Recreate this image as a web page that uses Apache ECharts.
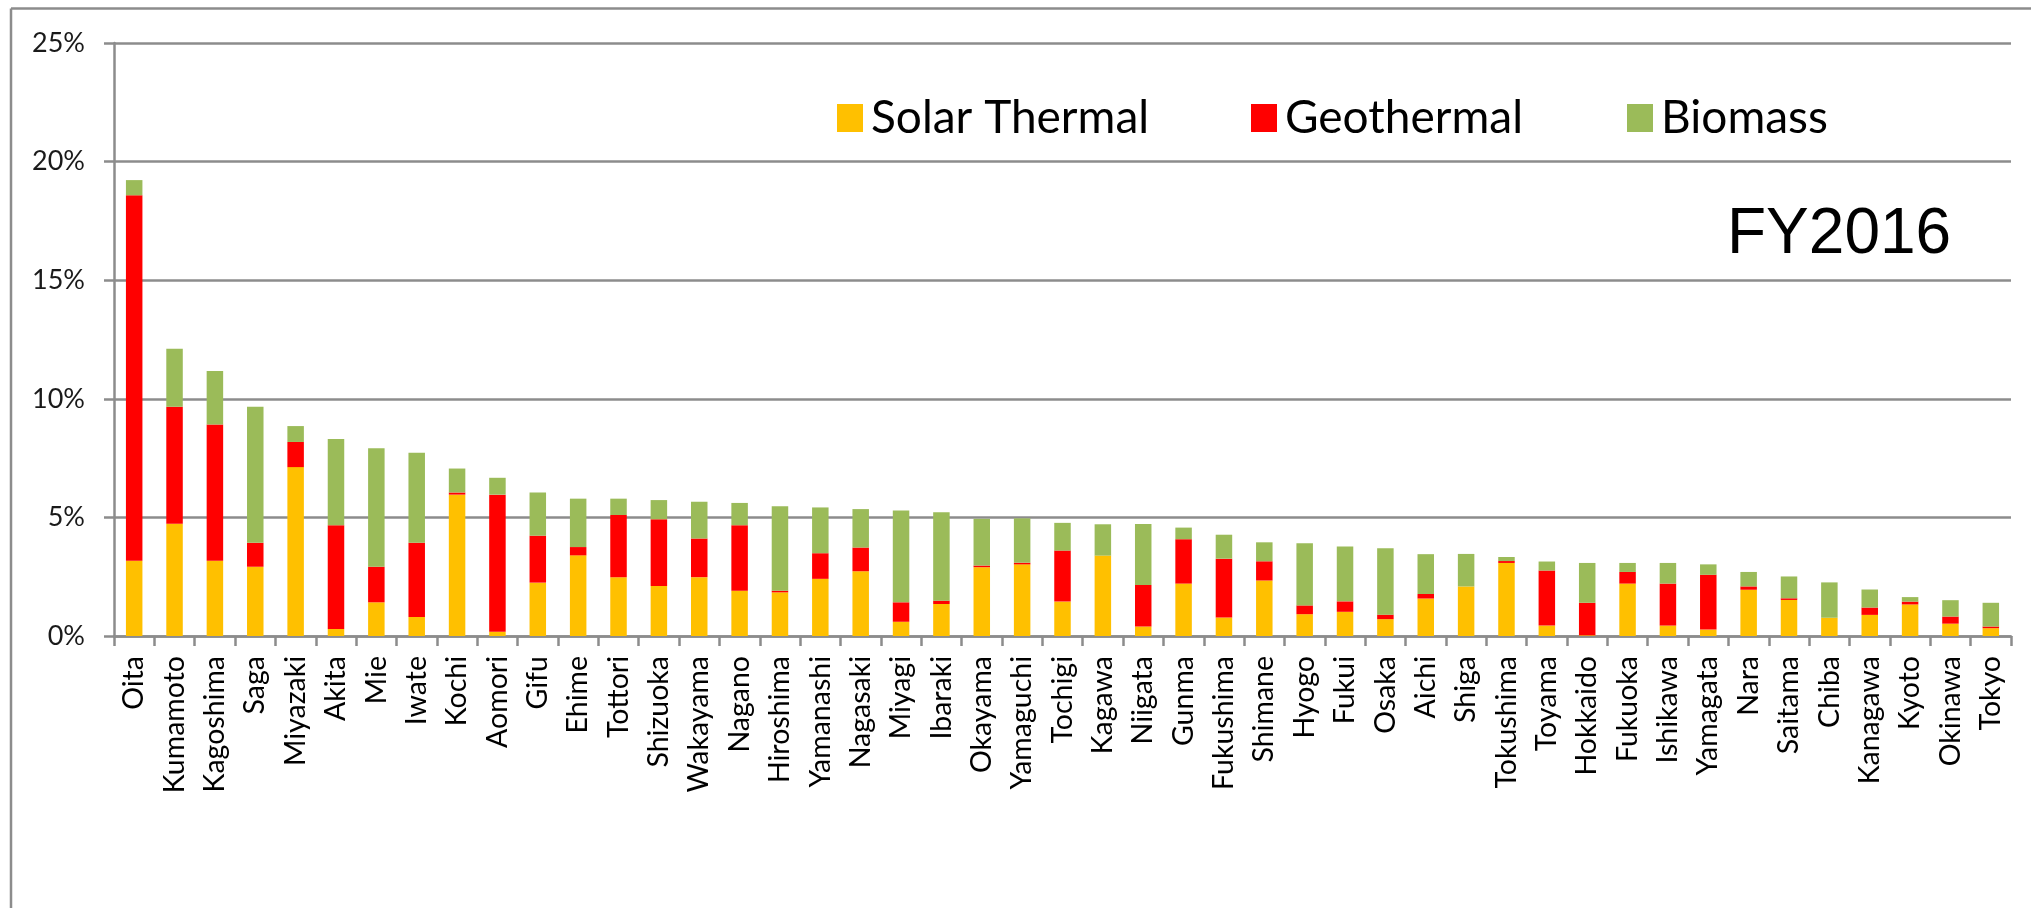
<!DOCTYPE html>
<html>
<head>
<meta charset="utf-8">
<script src="https://cdn.jsdelivr.net/npm/echarts@6/dist/echarts.min.js"></script>
<style>
html,body{margin:0;padding:0;background:#fff;}
#chart{width:2031px;height:908px;}
</style>
</head>
<body>
<div id="chart"></div>
<script>
const prefectures = ["Oita","Kumamoto","Kagoshima","Saga","Miyazaki","Akita","Mie","Iwate","Kochi","Aomori","Gifu","Ehime","Tottori","Shizuoka","Wakayama","Nagano","Hiroshima","Yamanashi","Nagasaki","Miyagi","Ibaraki","Okayama","Yamaguchi","Tochigi","Kagawa","Niigata","Gunma","Fukushima","Shimane","Hyogo","Fukui","Osaka","Aichi","Shiga","Tokushima","Toyama","Hokkaido","Fukuoka","Ishikawa","Yamagata","Nara","Saitama","Chiba","Kanagawa","Kyoto","Okinawa","Tokyo"];

const solarThermal = [3.17,4.73,3.17,2.92,7.12,0.30,1.42,0.80,5.96,0.18,2.25,3.40,2.48,2.11,2.48,1.91,1.84,2.41,2.73,0.60,1.35,2.90,3.02,1.45,3.39,0.40,2.21,0.78,2.34,0.92,1.02,0.71,1.58,2.09,3.08,0.44,0.03,2.21,0.44,0.27,1.95,1.52,0.77,0.89,1.33,0.52,0.33];

const geothermal = [15.41,4.93,5.75,1.01,1.06,4.37,1.50,3.13,0.09,5.78,1.98,0.35,2.62,2.81,1.63,2.76,0.07,1.08,1.00,0.82,0.14,0.07,0.07,2.15,0,1.75,1.87,2.48,0.81,0.37,0.44,0.19,0.19,0,0.08,2.32,1.37,0.49,1.77,2.31,0.14,0.07,0,0.31,0.12,0.30,0.07];

const biomass = [0.64,2.45,2.25,5.73,0.67,3.63,4.99,3.80,1.01,0.71,1.82,2.04,0.69,0.81,1.55,0.94,3.56,1.93,1.62,3.87,3.73,1.97,1.87,1.17,1.32,2.57,0.49,1.01,0.80,2.62,2.31,2.80,1.68,1.37,0.17,0.38,1.68,0.38,0.87,0.44,0.61,0.92,1.49,0.76,0.19,0.69,1.00];

const seriesNames = ["Solar Thermal","Geothermal","Biomass"];
const seriesColors = ["#FFC000","#FF0000","#9BBB59"];
const yTicks = [0,5,10,15,20,25];
const periodLabel = "FY2016";

const chart = echarts.init(document.getElementById('chart'), null, {renderer:'canvas'});
const gridColor = '#8c8c8c';
const legendLefts = [832, 1246, 1622];

const option = {
  animation: false,
  backgroundColor: '#ffffff',
  grid: {left:114, right:20, top:43, bottom:272, outerBoundsMode:'none', containLabel:false},
  legend: seriesNames.map((n,i)=>({
    data:[n], left: legendLefts[i], top: 90, orient:'horizontal',
    itemWidth:26, itemHeight:28, icon:'rect',
    textStyle:{fontFamily:'Lato', fontSize:46, color:'#000', lineHeight:46, padding:[0,0,0,3]},
    selectedMode:false
  })),
  xAxis: {
    type:'category',
    data: prefectures,
    axisLine:{show:true, lineStyle:{color:gridColor, width:2.5}},
    axisTick:{show:true, length:10, lineStyle:{color:gridColor, width:2.5}},
    axisLabel:{interval:0, rotate:90, margin:20, fontFamily:'Lato', fontSize:28.5, color:'#000'}
  },
  yAxis: {
    type:'value',
    min: yTicks[0], max: yTicks[yTicks.length-1], interval: yTicks[1]-yTicks[0],
    axisLine:{show:true, lineStyle:{color:gridColor, width:2.5}},
    axisTick:{show:true, length:10, lineStyle:{color:gridColor, width:2.5}},
    splitLine:{show:true, lineStyle:{color:gridColor, width:2.5}},
    axisLabel:{formatter:'{value}%', margin:29, fontFamily:'Lato', fontSize:27, color:'#1a1a1a'}
  },
  series: [solarThermal, geothermal, biomass].map((d,i)=>({
    name: seriesNames[i], type:'bar', stack:'total', data:d,
    barWidth:16.5, itemStyle:{color:seriesColors[i]}
  })),
  graphic: [
    {type:'line', shape:{x1:11, y1:8.5, x2:2031, y2:8.5}, style:{stroke:gridColor, lineWidth:2.5}},
    {type:'line', shape:{x1:11, y1:8.5, x2:11, y2:908}, style:{stroke:gridColor, lineWidth:2.5}},
    {type:'text', left:1727, top:203, style:{text:periodLabel, font:'64px "Liberation Sans"', fill:'#000'}}
  ]
};
chart.setOption(option);
</script>
</body>
</html>
